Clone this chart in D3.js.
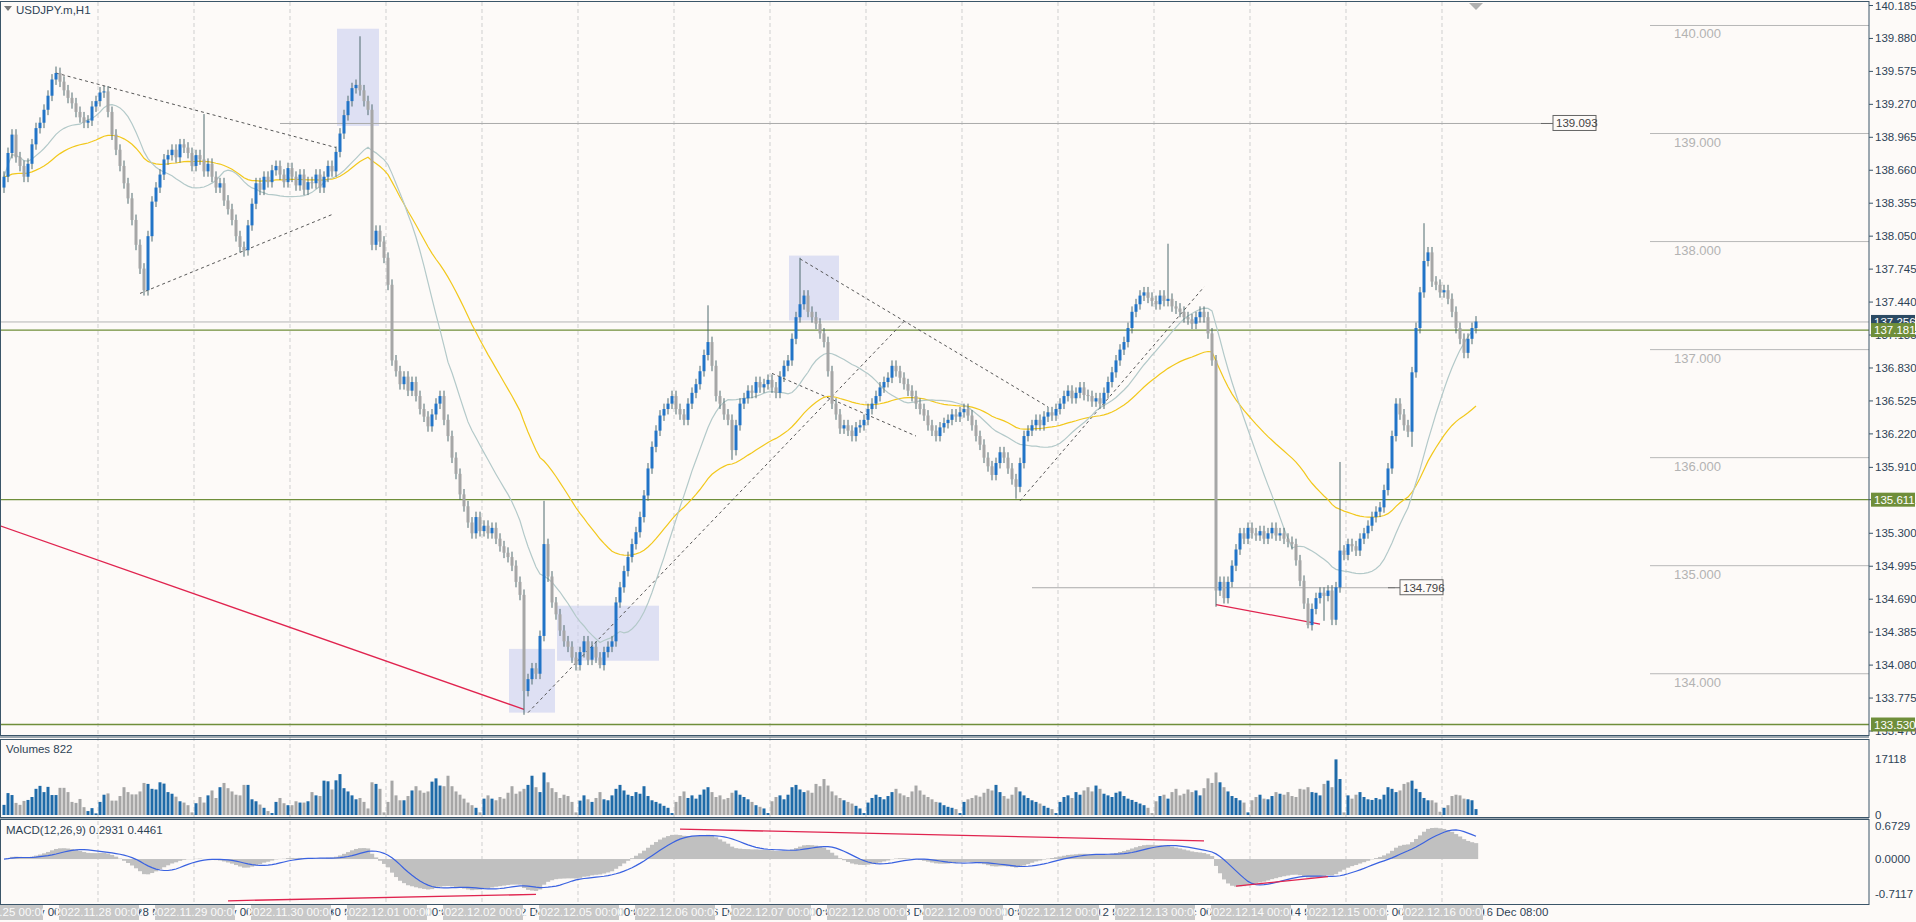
<!DOCTYPE html>
<html><head><meta charset="utf-8">
<script src="https://cdn.jsdelivr.net/npm/d3@7"></script>
<style>
body{margin:0;background:#fdfaf8;overflow:hidden}
svg{display:block;font-family:"Liberation Sans",Arial,sans-serif}
</style></head>
<body><svg id="c" width="1916" height="922"></svg>
<script>
// USDJPY H1 closes, Nov 25 00:00 .. Dec 16 08:00
const closes = [
138.60,138.82,138.99,138.78,138.70,138.60,138.72,138.90,139.05,139.10,139.22,139.35,
139.50,139.56,139.48,139.40,139.33,139.28,139.20,139.15,139.10,139.12,139.25,139.30,
139.38,139.39,139.20,138.99,138.85,138.70,138.54,138.40,138.20,137.97,137.75,137.55,
138.05,138.37,138.50,138.62,138.76,138.80,138.85,138.78,138.90,138.87,138.82,138.70,
138.80,138.76,138.65,138.72,138.60,138.50,138.54,138.38,138.30,138.20,138.05,137.95,
137.92,138.15,138.35,138.54,138.48,138.60,138.55,138.66,138.70,138.62,138.55,138.68,
138.60,138.52,138.62,138.48,138.55,138.54,138.62,138.50,138.60,138.70,138.65,138.83,
139.00,139.17,139.30,139.42,139.45,139.40,139.30,139.22,137.97,138.10,138.00,137.85,
137.60,136.90,136.80,136.68,136.75,136.62,136.70,136.57,136.45,136.38,136.29,136.40,
136.50,136.57,136.35,136.20,136.00,135.85,135.66,135.55,135.40,135.30,135.45,135.32,
135.37,135.30,135.35,135.25,135.18,135.12,135.08,135.00,134.85,134.73,133.84,133.95,
134.05,134.00,134.35,135.20,134.90,134.66,134.55,134.40,134.30,134.25,134.15,134.08,
134.20,134.30,134.13,134.25,134.15,134.08,134.20,134.25,134.30,134.66,134.80,134.95,
135.08,135.20,135.31,135.45,135.65,135.90,136.10,136.25,136.39,136.45,136.50,136.57,
136.45,136.40,136.35,136.50,136.60,136.68,136.80,136.95,137.07,136.85,136.57,136.50,
136.40,136.35,136.07,136.30,136.50,136.55,136.62,136.60,136.70,136.65,136.68,136.72,
136.65,136.60,136.75,136.85,136.90,137.10,137.30,137.42,137.50,137.35,137.30,137.24,
137.15,137.07,136.80,136.50,136.40,136.27,136.30,136.25,136.20,136.28,136.30,136.35,
136.45,136.50,136.57,136.65,136.70,136.74,136.85,136.80,136.74,136.68,136.62,136.57,
136.50,136.45,136.39,136.30,136.25,136.20,136.28,136.32,136.35,136.40,136.38,136.42,
136.45,136.39,136.30,136.20,136.12,136.00,135.92,135.84,135.95,136.05,136.00,135.90,
135.80,135.73,135.95,136.20,136.25,136.30,136.35,136.30,136.38,136.42,136.39,136.45,
136.50,136.57,136.62,136.55,136.60,136.65,136.58,136.57,136.52,136.55,136.50,136.60,
136.70,136.79,136.90,137.00,137.07,137.20,137.35,137.42,137.50,137.53,137.48,137.45,
137.42,137.50,137.45,137.47,137.40,137.38,137.35,137.30,137.28,137.24,137.30,137.35,
137.30,137.15,136.90,134.77,134.85,134.70,134.85,135.00,135.15,135.30,135.25,135.35,
135.30,135.28,135.32,135.25,135.30,135.35,135.28,135.30,135.25,135.22,135.20,135.05,
134.86,134.65,134.45,134.60,134.70,134.75,134.72,134.77,134.50,134.80,135.14,135.10,
135.20,135.18,135.14,135.25,135.30,135.37,135.45,135.50,135.54,135.70,135.90,136.20,
136.50,136.40,136.30,136.24,136.79,137.20,137.53,137.82,137.90,137.63,137.60,137.53,
137.55,137.47,137.35,137.20,137.10,136.97,137.10,137.20,137.26];
const firstOpen = 138.50;
// notable wick extremes [index, price]
const spikeHighs = [[13,139.62],[50,139.18],[89,139.90],[135,135.60],[176,137.41],[199,137.85],[291,137.98],[334,135.96],[355,138.17]];
const spikeLows = [[35,137.50],[60,137.86],[130,133.62],[149,134.05],[182,135.98],[253,135.62],[303,134.62],[326,134.42],[330,134.49],[352,136.10]];
// tick volume, hundreds
const volumes = [
31,67,61,37,31,43,46,55,80,89,70,86,61,61,83,83,70,40,37,49,24,12,21,5,
40,62,66,44,44,58,85,70,63,63,72,98,95,80,78,100,96,70,65,56,42,38,30,8,
36,55,38,60,75,52,85,98,82,72,62,60,92,92,48,42,32,22,12,6,40,52,36,30,
30,42,38,38,42,70,60,58,105,103,78,106,125,82,72,60,48,52,40,20,100,95,80,8,
40,105,60,45,45,58,75,88,75,68,72,102,112,90,88,120,88,72,62,50,38,30,22,8,
50,60,50,45,55,50,68,88,65,72,80,92,120,85,70,130,100,82,70,52,62,58,40,8,
44,60,48,40,52,70,48,45,60,80,92,75,62,58,70,65,88,58,45,40,35,28,22,6,
40,58,72,52,60,50,62,78,85,70,55,60,48,52,68,75,62,55,48,40,30,25,20,6,
42,55,60,48,62,85,92,78,70,75,68,95,88,110,90,72,60,52,45,40,35,28,20,6,
38,52,62,55,48,58,70,80,66,60,55,72,90,75,62,55,48,40,38,30,25,22,18,6,
40,48,52,60,56,68,80,75,92,70,58,50,62,85,72,60,52,45,40,35,28,22,18,6,
40,55,60,52,70,62,75,85,72,90,80,65,60,55,68,72,58,50,46,40,35,30,22,6,
42,58,62,50,70,80,60,65,78,70,75,60,82,112,98,130,100,85,72,58,52,45,38,8,
45,55,62,50,48,58,70,65,62,70,58,55,80,78,85,70,68,60,95,105,85,170,110,8,
60,50,62,70,55,48,46,52,48,62,85,80,70,75,95,100,105,80,70,52,45,45,38,10,
22,30,58,62,60,50,48,45,18];
const days = ["2022.11.25","2022.11.28","2022.11.29","2022.11.30","2022.12.01","2022.12.02","2022.12.05","2022.12.06","2022.12.07","2022.12.08","2022.12.09","2022.12.12","2022.12.13","2022.12.14","2022.12.15","2022.12.16"];
const dayShort = ["25 Nov","28 Nov","29 Nov","30 Nov","1 Dec","2 Dec","5 Dec","6 Dec","7 Dec","8 Dec","9 Dec","12 Dec","13 Dec","14 Dec","15 Dec","16 Dec"];
const priceTicks = [140.185,139.880,139.575,139.270,138.965,138.660,138.355,138.050,137.745,137.440,137.135,136.830,136.525,136.220,135.910,135.611,135.300,134.995,134.690,134.385,134.080,133.775,133.470];
const roundLevels = [140,139,138,137,136,135,134];
const greenLevels = [137.181,135.611,133.530];
const bidLevel = 137.256;
const dashedLines = [[[13,139.56],[83,138.87]],[[34,137.52],[82,138.25]],[[131,133.64],[225,137.26]],[[199,137.84],[261,136.47]],[[192,136.78],[228,136.20]],[[254,135.60],[300,137.58]]];
const redLines = [[[-1,135.37],[130,133.67]],[[303,134.64],[329,134.46]]];
const boxes = [[84,93,139.97,139.07],[127,137,134.23,133.64],[139,163,134.63,134.12],[197,208,137.87,137.27]];
const macdRed = [[[56,-0.85],[133,-0.72]],[[169,0.61],[300,0.37]],[[308,-0.55],[331,-0.36]]];

const n = closes.length;
const bars = closes.map((c,i)=>{
  const o = i? closes[i-1] : firstOpen;
  let h = Math.max(o,c)+0.05, l = Math.min(o,c)-0.05;
  spikeHighs.forEach(s=>{ if(s[0]===i) h=s[1]; });
  spikeLows.forEach(s=>{ if(s[0]===i) l=s[1]; });
  return {i,o,c,h,l,v:volumes[i]*100};
});

const svg = d3.select("#c");
const W = 1869;
const x = d3.scaleLinear().domain([0,368]).range([4,1476]);
const y = d3.scaleLinear().domain([133.470,140.185]).range([731,5.5]);
const yv = d3.scaleLinear().domain([0,17118]).range([815,759]);
const ym = d3.scaleLinear().domain([-0.7117,0.6729]).range([894,826]);
const txt = "#2e4356", border="#3b5569";

svg.append("rect").attr("width",1916).attr("height",922).attr("fill","#fdfaf8");
const defs = svg.append("defs");
[["cm",0,735],["cv",740,816],["cmacd",820,903]].forEach(([id,a,b])=>{
  defs.append("clipPath").attr("id",id).append("rect").attr("x",1).attr("y",a).attr("width",W-1).attr("height",b-a);
});

// vertical day grid
const grid = svg.append("g").attr("stroke","#cfcfcf").attr("stroke-dasharray","4,3");
days.forEach((d,k)=>{ if(k===0) return; const gx = x(24*k)-2;
  grid.append("line").attr("x1",gx).attr("x2",gx).attr("y1",2).attr("y2",903); });

// main panel
const m = svg.append("g").attr("clip-path","url(#cm)");
boxes.forEach(b=>m.append("rect").attr("x",x(b[0])-3).attr("width",x(b[1])-x(b[0])+6)
  .attr("y",y(b[2])).attr("height",y(b[3])-y(b[2])).attr("fill","#c9cff0").attr("opacity",0.6));
roundLevels.forEach(p=>{
  m.append("line").attr("x1",1650).attr("x2",W).attr("y1",y(p)).attr("y2",y(p)).attr("stroke","#b8b8b8");
  m.append("text").attr("x",1674).attr("y",y(p)+13).attr("fill","#b3b3b3").attr("font-size",13).text(p.toFixed(3));
});
m.append("line").attr("x1",x(69)).attr("x2",1542).attr("y1",y(139.093)).attr("y2",y(139.093)).attr("stroke","#aaa");
m.append("line").attr("x1",x(257)).attr("x2",1395).attr("y1",y(134.796)).attr("y2",y(134.796)).attr("stroke","#aaa");
[[139.093,1553],[134.796,1400]].forEach(([p,lx])=>{
  m.append("line").attr("x1",lx-12).attr("x2",lx).attr("y1",y(p)).attr("y2",y(p)).attr("stroke","#666");
  m.append("rect").attr("x",lx).attr("y",y(p)-8).attr("width",43).attr("height",15).attr("fill","#fdfaf8").attr("stroke","#666");
  m.append("text").attr("x",lx+3).attr("y",y(p)+4).attr("font-size",11.5).attr("fill","#444").text(p.toFixed(3));
});
m.append("line").attr("x1",0).attr("x2",W).attr("y1",y(bidLevel)).attr("y2",y(bidLevel)).attr("stroke","#b5b5b5");
greenLevels.forEach(p=>m.append("line").attr("x1",0).attr("x2",W).attr("y1",y(p)).attr("y2",y(p)).attr("stroke","#6f8e3a").attr("stroke-width",1.3));
dashedLines.forEach(l=>m.append("line").attr("x1",x(l[0][0])).attr("y1",y(l[0][1])).attr("x2",x(l[1][0])).attr("y2",y(l[1][1]))
  .attr("stroke","#555").attr("stroke-dasharray","3,3"));
redLines.forEach(l=>m.append("line").attr("x1",x(l[0][0])).attr("y1",y(l[0][1])).attr("x2",x(l[1][0])).attr("y2",y(l[1][1]))
  .attr("stroke","#e0244f").attr("stroke-width",1.3));

function sma(p){ return closes.map((c,i)=>d3.mean(closes.slice(Math.max(0,i-p+1),i+1))); }
function ema(arr,p){ const k=2/(p+1); let e=arr[0]; return arr.map(v=>(e=v*k+e*(1-k))); }
const ma20 = sma(20), ma50 = ema(closes,50);
const lg = d3.line().x((d,i)=>x(i)).y(d=>y(d));
m.append("path").attr("d",lg(ma50)).attr("fill","none").attr("stroke","#f2c81c").attr("stroke-width",1.2);
m.append("path").attr("d",lg(ma20)).attr("fill","none").attr("stroke","#b3c9c9").attr("stroke-width",1.2);

const cg = m.append("g");
cg.selectAll("line.w").data(bars).join("line").attr("x1",d=>x(d.i)).attr("x2",d=>x(d.i))
  .attr("y1",d=>y(d.h)).attr("y2",d=>y(d.l)).attr("stroke","#4e6a6e");
cg.selectAll("rect").data(bars).join("rect").attr("x",d=>x(d.i)-1.5).attr("width",3)
  .attr("y",d=>y(Math.max(d.o,d.c))).attr("height",d=>Math.max(1,Math.abs(y(d.o)-y(d.c))))
  .attr("fill",d=>d.c>=d.o?"#2274c7":"#a6a6a6");

// volume panel
const vg = svg.append("g").attr("clip-path","url(#cv)");
vg.selectAll("rect").data(bars).join("rect").attr("x",d=>x(d.i)-1.5).attr("width",3)
  .attr("y",d=>yv(d.v)).attr("height",d=>yv(0)-yv(d.v)).attr("fill",d=>d.c>=d.o?"#1f6aa8":"#a6a6a6");

// MACD
const e12=ema(closes,12), e26=ema(closes,26);
const macd = closes.map((c,i)=>e12[i]-e26[i]);
const signal = macd.map((v,i)=>d3.mean(macd.slice(Math.max(0,i-8),i+1)));
const mg = svg.append("g").attr("clip-path","url(#cmacd)");
mg.selectAll("rect").data(macd).join("rect").attr("x",(d,i)=>x(i)-2).attr("width",4.2)
  .attr("y",d=>Math.min(ym(d),ym(0))).attr("height",d=>Math.abs(ym(d)-ym(0))).attr("fill","#c0c0c0");
mg.append("path").attr("d",d3.line().x((d,i)=>x(i)).y(d=>ym(d))(signal)).attr("fill","none").attr("stroke","#3a62e0").attr("stroke-width",1.2);
macdRed.forEach(l=>mg.append("line").attr("x1",x(l[0][0])).attr("y1",ym(l[0][1])).attr("x2",x(l[1][0])).attr("y2",ym(l[1][1]))
  .attr("stroke","#e0244f").attr("stroke-width",1.3));

// frames
[[1,1,735],[1,739,817],[1,819,904]].forEach(([a,t,b])=>svg.append("rect").attr("x",0.5).attr("y",t+0.5).attr("width",W-0.5).attr("height",b-t)
  .attr("fill","none").attr("stroke",border));
svg.append("line").attr("x1",0).attr("x2",W).attr("y1",737).attr("y2",737).attr("stroke",border);
svg.append("line").attr("x1",0).attr("x2",W).attr("y1",818).attr("y2",818).attr("stroke",border);

// right axes
const ra = svg.append("g").attr("font-size",11.5).attr("fill",txt);
priceTicks.forEach(p=>{ ra.append("line").attr("x1",W).attr("x2",W+4).attr("y1",y(p)).attr("y2",y(p)).attr("stroke",border);
  ra.append("text").attr("x",W+6).attr("y",y(p)+4).text(p.toFixed(3)); });
[[17118,yv],[0,yv]].forEach(([v,s])=>ra.append("text").attr("x",W+6).attr("y",s(v)+4).text(v));
[[0.6729,"0.6729"],[0,"0.0000"],[-0.7117,"-0.7117"]].forEach(([v,t])=>ra.append("text").attr("x",W+6).attr("y",ym(v)+4).text(t));
function tag(p,fill){ ra.append("rect").attr("x",W+2).attr("y",y(p)-7).attr("width",44).attr("height",14).attr("fill",fill);
  ra.append("text").attr("x",W+5).attr("y",y(p)+4).attr("fill","#fff").text(p.toFixed(3)); }
tag(bidLevel,"#2c4a63");
greenLevels.forEach(p=>tag(p,"#6f8e3a"));
svg.append("path").attr("d",`M${x(368)-7},3 L${x(368)+7},3 L${x(368)},10 Z`).attr("fill","#b0b0b0");

// titles
svg.append("text").attr("x",16).attr("y",14).attr("font-size",11.5).attr("fill",txt).text("USDJPY.m,H1");
svg.append("path").attr("d","M4,6 L12,6 L8,11 Z").attr("fill","#777");
svg.append("text").attr("x",6).attr("y",753).attr("font-size",11.5).attr("fill",txt).text("Volumes 822");
svg.append("text").attr("x",6).attr("y",834).attr("font-size",11.5).attr("fill",txt).text("MACD(12,26,9) 0.2931 0.4461");

// time axis
const ta = svg.append("g").attr("font-size",11.5);
for(let i=0;i<=368;i+=16){ const d=Math.floor(i/24), h=i%24;
  ta.append("line").attr("x1",x(i)).attr("x2",x(i)).attr("y1",904).attr("y2",908).attr("stroke",border);
  ta.append("text").attr("x",x(i)+4).attr("y",916).attr("fill",txt).text(`${dayShort[d]} ${String(h).padStart(2,"0")}:00`); }
days.forEach((d,k)=>{ const gx = k===0?x(0)-2:x(24*k)-2;
  ta.append("rect").attr("x",gx-39).attr("y",905).attr("width",80).attr("height",15).attr("fill","#c8c8c8");
  ta.append("text").attr("x",gx+1).attr("y",916).attr("text-anchor","middle").attr("fill","#fafafa").text(d+" 00:00"); });
</script></body></html>
